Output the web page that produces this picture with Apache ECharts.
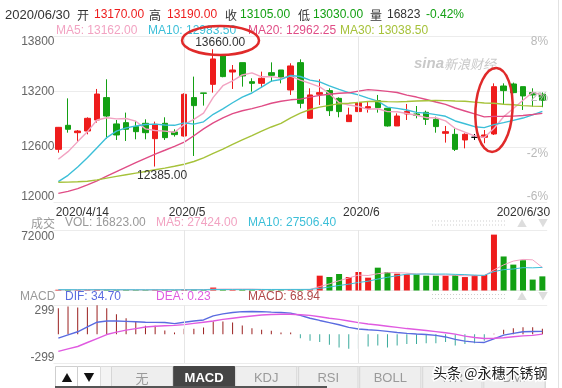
<!DOCTYPE html>
<html><head><meta charset="utf-8">
<script src="https://cdn.jsdelivr.net/npm/echarts@6/dist/echarts.min.js"></script>
<style>html,body{margin:0;padding:0;background:#fff;}#c{width:562px;height:388px;}</style>
</head><body><div id="c"></div><script>
const dates = ['2020/4/14','2020/4/15','2020/4/16','2020/4/17','2020/4/20','2020/4/21','2020/4/22','2020/4/23','2020/4/24','2020/4/27','2020/4/28','2020/4/29','2020/4/30',
'2020/5/6','2020/5/7','2020/5/8','2020/5/11','2020/5/12','2020/5/13','2020/5/14','2020/5/15','2020/5/18','2020/5/19','2020/5/20','2020/5/21','2020/5/22','2020/5/25','2020/5/26','2020/5/27','2020/5/28','2020/5/29',
'2020/6/1','2020/6/2','2020/6/3','2020/6/4','2020/6/5','2020/6/8','2020/6/9','2020/6/10','2020/6/11','2020/6/12','2020/6/15','2020/6/16','2020/6/17','2020/6/18','2020/6/19','2020/6/22','2020/6/23','2020/6/24','2020/6/29','2020/6/30'];
const openVals  = [12572,12833,12753,12771,12891,13134,12848,12862,12819,12855,12688,12855,12761,12717,13134,13185,13278,13597,13412,13514,13307,13289,13405,13434,13217,13514,12909,13170,13210,13126,12873,12982,13018,13101,13018,12826,12956,12956,12974,12898,12746,12735,12674,12703,12703,12739,13260,13282,13253,13188,13170];
const closeVals = [12811,12790,12771,12909,13173,12934,12728,12790,12764,12753,12844,12699,12732,13170,13047,13180,13554,13362,13434,13369,13289,13344,13376,13351,13478,13072,13163,13188,12992,12982,12945,13079,13036,13025,12826,12934,12982,12942,12898,12819,12764,12572,12735,12703,12728,13253,13210,13188,13152,13163,13105];
const lowVals   = [12536,12753,12656,12735,12862,12688,12674,12663,12681,12681,12385,12674,12710,12710,12500,13047,13188,13355,13228,13253,13199,13242,13307,13289,13163,13018,12902,13054,12934,12920,12873,12956,12971,12971,12819,12826,12891,12909,12837,12753,12645,12554,12583,12674,12638,12728,13065,13181,13000,13036,13030];
const highVals  = [12815,13126,12782,12920,13228,13333,12891,12971,12880,12898,12873,12920,12790,13181,13362,13185,13660,13600,13488,13514,13344,13416,13517,13434,13507,13550,13235,13333,13235,13137,13025,13126,13097,13163,13018,12963,13065,13043,12992,12927,12826,12800,12746,12739,12782,13289,13289,13297,13253,13235,13190];
const ma5  = [12464,12547,12656,12764,12891,12915,12903,12907,12878,12794,12776,12770,12758,12840,12898,12966,13137,13263,13315,13380,13402,13360,13362,13346,13368,13324,13288,13250,13179,13079,13054,13037,13007,13013,12982,12980,12961,12942,12916,12915,12881,12799,12758,12719,12700,12798,12926,13016,13106,13193,13162];
const ma10 = [12221,12290,12380,12480,12590,12700,12770,12805,12825,12842,12846,12837,12833,12859,12846,12871,12953,13011,13078,13139,13184,13248,13313,13331,13374,13363,13324,13306,13262,13224,13189,13163,13129,13096,13031,13017,12999,12974,12965,12949,12931,12880,12850,12818,12808,12840,12862,12887,12912,12947,12983.5];
const ma20 = [12094,12115,12145,12185,12230,12280,12330,12380,12428,12475,12520,12562,12605,12650,12720,12795,12860,12915,12960,12991,13015,13042,13073,13095,13110,13117,13139,13158,13170,13181,13186,13205,13221,13213,13202,13190,13161,13140,13114,13086,13060,13021,12989,12957,12925,12930,12931,12933,12940,12950,12962.25];
const ma30 = [12214,12216,12220,12226,12240,12260,12278,12296,12314,12332,12350,12368,12388,12410,12440,12480,12529,12575,12625,12674,12720,12770,12815,12855,12915,12965,13005,13030,13050,13068,13073,13082,13091,13095,13090,13088,13092,13097,13100,13102,13101,13097,13095,13085,13075,13073,13062,13056,13047,13042,13038.5];
const volumes = [900,800,700,900,1200,1100,800,700,700,700,900,800,700,1400,1300,900,3500,1500,1000,1100,900,900,900,900,1300,1500,1400,
17650,16065,19635,16065,22015,15270,27170,22015,20030,19240,19240,17650,17650,17650,18500,16000,18500,18500,66500,40500,30800,36000,13000,16823];
const volMa5  = [900,900,850,850,900,950,950,900,850,800,750,750,750,900,1000,1000,1600,1700,1600,1600,1600,1300,1000,950,1000,1100,1200,
4700,7900,11700,14900,18300,17800,20000,21200,21300,20700,19600,19600,18700,18300,18100,17500,17700,17800,24500,30500,35000,37000,36500,27424];
const volMa10 = [950,950,900,900,900,900,900,900,880,850,850,850,820,850,870,880,1100,1200,1250,1300,1300,1250,1250,1250,1300,1300,1350,
2500,4100,6000,7500,9600,11000,13600,15700,17600,19400,19500,19700,19500,19600,19200,18900,18300,18000,22500,24800,25600,27200,27000,27506.4];
const dif = [-50,-10,30,90,150,165,165,160,155,150,148,146,132,150,165,178,230,255,272,282,284,282,276,272,264,235,200,172,145,118,85,65,55,48,35,20,10,2,-5,-15,-35,-65,-88,-100,-104,-60,-12,10,30,33,34.7];
const dea = [-217,-185,-155,-105,-55,-5,25,50,70,90,100,106,110,120,135,150,165,185,200,215,228,240,246,250,250,244,235,218,200,185,165,145,128,115,100,85,70,58,45,32,18,0,-25,-42,-55,-52,-45,-32,-22,-15,0.23];
const macdHist = [325,346,333,337,367,325,250,200,158,104,104,46,21,67,67,83,158,158,146,108,75,54,42,21,21,-50,-83,-100,-133,-167,-183,-183,-154,-142,-167,-142,-125,-125,-113,-113,-100,-142,-125,-113,-83,5,54,75,87,87,68.94];
const xTickIdx = [0, 13, 31, 50];
const xTickLabels = ['2020/4/14', '2020/5', '2020/6', '2020/6/30'];
const priceTicks = [13800, 13200, 12600, 12000];
const pctLabels = ['8%', '2%', '-2%', '-6%'];
const macdTicks = [299, -299];
const volTop = 72000;

const RED = '#ee1c1c', GREEN = '#13a013', DARK = '#333';
const C_MA5 = '#f2a3c2', C_MA10 = '#3cbfd8', C_MA20 = '#e04d86', C_MA30 = '#a6c23a';
const FONT = '"Liberation Sans", Arial, "Noto Sans CJK SC", sans-serif';
const CJK = '"Noto Sans CJK SC", "Liberation Sans", sans-serif';

const candleData = dates.map((d, i) => {
  const item = { value: [openVals[i], closeVals[i], lowVals[i], highVals[i]] };
  if (openVals[i] === closeVals[i]) item.itemStyle = { color: '#000', color0: '#000', borderColor: '#000', borderColor0: '#000' };
  return item;
});
const volData = volumes.map((v, i) => ({ value: v, itemStyle: { color: closeVals[i] >= openVals[i] ? RED : GREEN } }));
const macdData = macdHist.map(v => ({ value: v, itemStyle: { color: v >= 0 ? '#9a1f1f' : '#3aaa9c' } }));

let hiIdx = 0, loIdx = 0;
highVals.forEach((v, i) => { if (v > highVals[hiIdx]) hiIdx = i; });
lowVals.forEach((v, i) => { if (v < lowVals[loIdx]) loIdx = i; });

const GL = 53.5, GR = 14.8;
const vline = { silent: true, symbol: ['none', 'none'], label: { show: false }, animation: false,
  lineStyle: { color: '#e6e6e6', width: 1, type: 'solid' },
  data: [{ xAxis: dates[13] }, { xAxis: dates[31] }] };
const lbl = { fontSize: 12, fontFamily: FONT };

const chart = echarts.init(document.getElementById('c'));
const option = {
  animation: false,
  backgroundColor: '#fff',
  grid: [
    { left: GL, right: GR, top: 36.3, height: 165.7 },
    { left: GL, right: GR, top: 230, height: 60.5 },
    { left: GL, right: GR, top: 305.3, height: 57.7 }
  ],
  xAxis: [0, 1, 2].map(g => ({
    type: 'category', gridIndex: g, data: dates, boundaryGap: true,
    axisLine: { show: false }, axisTick: { show: false }, splitLine: { show: false },
    axisLabel: g === 0 ? {
      show: true, margin: 5, color: DARK, fontSize: 12, fontFamily: FONT,
      interval: (i) => xTickIdx.indexOf(i) >= 0,
      formatter: (v, i) => {
        const k = xTickIdx.indexOf(i);
        if (k < 0) return '';
        const t = xTickLabels[k];
        if (k === 0) return '{l|' + t + '}';
        if (k === xTickIdx.length - 1) return '{r|' + t + '}';
        return '{m|' + t + '}';
      },
      rich: {
        l: Object.assign({ padding: [0, 0, 0, 48], color: DARK }, lbl),
        r: Object.assign({ padding: [0, 38, 0, 0], color: DARK }, lbl),
        m: Object.assign({ padding: [0, 0, 0, 6], color: DARK }, lbl)
      }
    } : { show: false }
  })),
  yAxis: [
    { type: 'value', gridIndex: 0, min: 12000, max: 13800, interval: 600, position: 'left',
      axisLine: { show: false }, axisTick: { show: false },
      splitLine: { lineStyle: { color: '#ececec' } },
      axisLabel: { margin: -1, color: '#666', fontSize: 12, fontFamily: FONT,
        formatter: (v) => v === priceTicks[0] ? '{t|' + v + '}' : (v === priceTicks[3] ? '{b|' + v + '}' : '{n|' + v + '}'),
        rich: { t: Object.assign({ padding: [11, 0, 0, 0], color: '#666' }, lbl), b: Object.assign({ padding: [0, 0, 11, 0], color: '#666' }, lbl), n: Object.assign({ color: '#666' }, lbl) } } },
    { type: 'value', gridIndex: 0, min: 12000, max: 13800, interval: 600, position: 'right',
      axisLine: { show: false }, axisTick: { show: false }, splitLine: { show: false },
      axisLabel: { inside: true, margin: -1, color: '#b9b9b9', fontSize: 12, fontFamily: FONT,
        formatter: (v) => {
          const k = priceTicks.indexOf(v);
          if (k < 0) return '';
          return '{p' + k + '|' + pctLabels[k] + '}';
        },
        rich: {
          p0: Object.assign({ padding: [11, 0, 0, 0], color: '#b9b9b9' }, lbl),
          p1: Object.assign({ padding: [13, 0, 0, 0], color: '#b9b9b9' }, lbl),
          p2: Object.assign({ padding: [14, 0, 0, 0], color: '#b9b9b9' }, lbl),
          p3: Object.assign({ padding: [0, 0, 11, 0], color: '#b9b9b9' }, lbl)
        } }, z: 5 },
    { type: 'value', gridIndex: 1, min: 0, max: volTop, interval: volTop,
      axisLine: { show: false }, axisTick: { show: false },
      splitLine: { lineStyle: { color: '#ececec' } },
      axisLabel: { margin: -1, color: '#666', fontSize: 12, fontFamily: FONT,
        formatter: (v) => v === volTop ? '{t|' + v + '}' : '',
        rich: { t: Object.assign({ padding: [14, 0, 0, 0], color: '#666' }, lbl) } } },
    { type: 'value', gridIndex: 2, min: -362, max: 362, interval: 362,
      axisLine: { show: false }, axisTick: { show: false },
      splitLine: { lineStyle: { color: ['#ececec', 'rgba(0,0,0,0)', '#ececec'] } },
      axisLabel: { margin: -1, color: '#666', fontSize: 12, fontFamily: FONT, customValues: macdTicks,
        formatter: (v) => String(v) } }
  ],
  series: [
    { type: 'line', xAxisIndex: 0, yAxisIndex: 0, data: [], z: 0, markLine: vline },
    { type: 'line', xAxisIndex: 1, yAxisIndex: 2, data: [], z: 0, markLine: vline },
    { type: 'line', xAxisIndex: 2, yAxisIndex: 3, data: [], z: 0, markLine: vline },
    { name: 'K', type: 'candlestick', xAxisIndex: 0, yAxisIndex: 0, data: candleData, barWidth: 6, z: 2,
      itemStyle: { color: RED, color0: GREEN, borderColor: RED, borderColor0: GREEN, borderWidth: 1 },
      markPoint: { symbol: 'rect', symbolSize: [1, 1], itemStyle: { color: 'rgba(0,0,0,0)' }, animation: false,
        label: { show: true, position: 'inside', color: DARK, fontSize: 12, fontFamily: FONT },
        data: [
          { coord: [dates[hiIdx], highVals[hiIdx]], value: highVals[hiIdx], label: { formatter: highVals[hiIdx].toFixed(2), offset: [7, -7] } },
          { coord: [dates[loIdx], lowVals[loIdx]], value: lowVals[loIdx], label: { formatter: lowVals[loIdx].toFixed(2), offset: [7, 9] } }
        ] } },
    { type: 'line', xAxisIndex: 0, yAxisIndex: 0, data: ma5, showSymbol: false, z: 3, lineStyle: { color: C_MA5, width: 1.4 } },
    { type: 'line', xAxisIndex: 0, yAxisIndex: 0, data: ma10, showSymbol: false, z: 3, lineStyle: { color: C_MA10, width: 1.4 } },
    { type: 'line', xAxisIndex: 0, yAxisIndex: 0, data: ma20, showSymbol: false, z: 3, lineStyle: { color: C_MA20, width: 1.4 } },
    { type: 'line', xAxisIndex: 0, yAxisIndex: 0, data: ma30, showSymbol: false, z: 3, lineStyle: { color: C_MA30, width: 1.4 } },
    { type: 'bar', xAxisIndex: 1, yAxisIndex: 2, data: volData, barWidth: 6, z: 2 },
    { type: 'line', xAxisIndex: 1, yAxisIndex: 2, data: volMa5, showSymbol: false, z: 3, lineStyle: { color: C_MA5, width: 1 } },
    { type: 'line', xAxisIndex: 1, yAxisIndex: 2, data: volMa10, showSymbol: false, z: 3, lineStyle: { color: C_MA10, width: 1 } },
    { type: 'bar', xAxisIndex: 2, yAxisIndex: 3, data: macdData, barWidth: 1, z: 2 },
    { type: 'line', xAxisIndex: 2, yAxisIndex: 3, data: dif, showSymbol: false, z: 3, lineStyle: { color: '#5a6be0', width: 1.4 } },
    { type: 'line', xAxisIndex: 2, yAxisIndex: 3, data: dea, showSymbol: false, z: 3, lineStyle: { color: '#e05ae0', width: 1.4 } }
  ]
};
chart.setOption(option);

function txt(text, x, y, fill, font, extra) {
  return Object.assign({ type: 'text', silent: true, z: 20,
    style: Object.assign({ text: text, x: x, y: y, fill: fill, font: font, textAlign: 'left', textVerticalAlign: 'middle', align: 'left', verticalAlign: 'middle' }, extra || {}) });
}
const last = dates.length - 1;
const f12 = '12px ' + FONT;
const g = [];
// header row 1
g.push(txt('2020/06/30', 5, 15, DARK, '13px ' + FONT));
g.push(txt('开', 77, 15, DARK, '12px ' + CJK));
g.push(txt(openVals[last].toFixed(2), 94, 15, RED, f12));
g.push(txt('高', 149, 15, DARK, '12px ' + CJK));
g.push(txt(highVals[last].toFixed(2), 167, 15, RED, f12));
g.push(txt('收', 225, 15, DARK, '12px ' + CJK));
g.push(txt(closeVals[last].toFixed(2), 240, 15, GREEN, f12));
g.push(txt('低', 298, 15, DARK, '12px ' + CJK));
g.push(txt(lowVals[last].toFixed(2), 313, 15, GREEN, f12));
g.push(txt('量', 370, 15, DARK, '12px ' + CJK));
g.push(txt(String(volumes[last]), 387, 15, DARK, f12));
g.push(txt('-0.42%', 426, 15, GREEN, f12));
// MA legend
g.push(txt('MA5: ' + ma5[last].toFixed(2), 56, 30.6, C_MA5, f12));
g.push(txt('MA10: ' + ma10[last].toFixed(2), 148, 30.6, C_MA10, f12));
g.push(txt('MA20: ' + ma20[last].toFixed(2), 248, 30.6, C_MA20, f12));
g.push(txt('MA30: ' + ma30[last].toFixed(2), 340, 30.6, C_MA30, f12));
// volume header
g.push(txt('成交', 31, 223, '#999', '12px ' + CJK));
g.push(txt('VOL: ' + volumes[last].toFixed(2), 65, 223, '#999', f12));
g.push(txt('MA5: ' + volMa5[last].toFixed(2), 156, 223, C_MA5, f12));
g.push(txt('MA10: ' + volMa10[last].toFixed(2), 248, 223, C_MA10, f12));
// macd header
g.push(txt('MACD', 20, 296.5, '#999', f12));
g.push(txt('DIF: ' + dif[last].toFixed(2), 65, 296.5, '#5a6be0', f12));
g.push(txt('DEA: ' + dea[last].toFixed(2), 156, 296.5, '#e05ae0', f12));
g.push(txt('MACD: ' + macdHist[last].toFixed(2), 248, 296.5, '#b04848', f12));
// small right-side controls in pane headers
[223, 296.5].forEach(y => {
  g.push({ type: 'line', silent: true, z: 20, shape: { x1: 432, y1: y - 2, x2: 507, y2: y - 2 }, style: { stroke: '#cfcfcf', lineWidth: 1, lineDash: [1, 2] } });
  g.push({ type: 'line', silent: true, z: 20, shape: { x1: 432, y1: y + 2, x2: 507, y2: y + 2 }, style: { stroke: '#cfcfcf', lineWidth: 1, lineDash: [1, 2] } });
  g.push(txt('▲', 517, y, '#dddddd', '10px ' + CJK));
  g.push(txt('▼', 538, y, '#dddddd', '10px ' + CJK));
});
// sina watermark
g.push(txt('sina', 414, 64, '#c9c9c9', 'italic bold 15px ' + FONT));
g.push(txt('新浪财经', 444, 64, '#c9c9c9', 'italic 13px ' + CJK));
// right border
g.push({ type: 'line', silent: true, z: 1, shape: { x1: 558.5, y1: 0, x2: 558.5, y2: 388 }, style: { stroke: '#e2e2e2', lineWidth: 1 } });
// bottom tab bar
g.push({ type: 'rect', silent: true, z: 15, shape: { x: 55.5, y: 366.5, width: 22, height: 22 }, style: { fill: '#fff', stroke: '#cfcfcf' } });
g.push({ type: 'rect', silent: true, z: 15, shape: { x: 77.5, y: 366.5, width: 23, height: 22 }, style: { fill: '#fff', stroke: '#cfcfcf' } });
g.push(txt('▲', 67, 378, '#111', '11px ' + CJK, { textAlign: 'center', align: 'center' }));
g.push(txt('▼', 89, 378, '#111', '11px ' + CJK, { textAlign: 'center', align: 'center' }));
g.push({ type: 'rect', silent: true, z: 15, shape: { x: 100.5, y: 366.5, width: 445, height: 22 }, style: { fill: '#f4f4f4', stroke: '#dcdcdc' } });
const tabs = [['无', 111.5, 172.7], ['MACD', 173.7, 234.5], ['KDJ', 235.6, 296.8], ['RSI', 298.6, 358], ['BOLL', 359.7, 420.9], ['WR', 422.7, 482], ['DMI', 483.8, 545]];
tabs.forEach(([t, a, b]) => {
  const sel = t === 'MACD';
  g.push({ type: 'rect', silent: true, z: 16, shape: { x: a, y: 366.5, width: b - a, height: 22 },
    style: { fill: sel ? '#454545' : '#eeeeee', stroke: sel ? '#454545' : '#d6d6d6' } });
  g.push(txt(t, (a + b) / 2, 378, sel ? '#fff' : '#9a9a9a', (sel ? 'bold ' : '') + '13px ' + (t === '无' ? CJK : FONT), { textAlign: 'center', align: 'center' }));
});
g.push({ type: 'line', silent: true, z: 17, shape: { x1: 55, y1: 387, x2: 327, y2: 387 }, style: { stroke: '#555', lineWidth: 2 } });
g.push(txt('头条 @永穗不锈钢', 433, 373, '#222', '14px ' + CJK, { stroke: '#fff', lineWidth: 3, textStroke: '#fff', textStrokeWidth: 3 }));
// hand-drawn ellipses anchored on data points
const p1 = chart.convertToPixel({ xAxisIndex: 0, yAxisIndex: 0 }, [dates[hiIdx], highVals[hiIdx]]);
const p2 = chart.convertToPixel({ xAxisIndex: 0, yAxisIndex: 0 }, [dates[45], 13000]);
g.push({ type: 'ellipse', silent: true, z: 25, shape: { cx: p1[0] + 7.3, cy: p1[1] - 8.7, rx: 38.5, ry: 14.5 }, style: { fill: 'none', stroke: '#e02a2a', lineWidth: 2.5 } });
g.push({ type: 'ellipse', silent: true, z: 25, x: p2[0], y: p2[1], rotation: -0.06, shape: { cx: 0, cy: 0, rx: 18.5, ry: 42 }, style: { fill: 'none', stroke: '#e02a2a', lineWidth: 2.5 } });
chart.setOption({ graphic: { elements: g } });
</script></body></html>
